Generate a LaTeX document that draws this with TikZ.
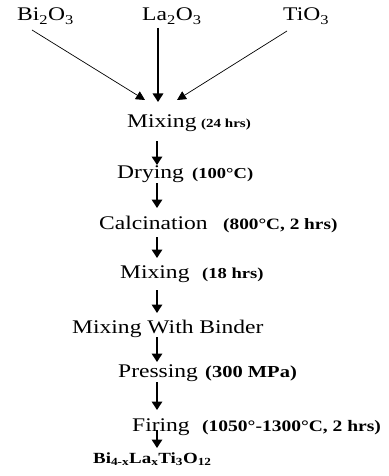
\documentclass[tikz,border=0pt]{standalone}
\usepackage{fontspec}
\setmainfont[FakeStretch=1.22]{Liberation Serif}
\usetikzlibrary{arrows.meta,calc}
\newcommand\fs[1]{\fontsize{#1}{#1}\selectfont}
\begin{document}
\begin{tikzpicture}[x=1pt,y=-1pt,
  lbl/.style={anchor=base west,inner sep=0pt,font=\fs{19.3}},
  par/.style={anchor=base west,inner sep=0pt,font=\bfseries\fs{#1}},
  arr/.style={line width=1.7pt,-{Triangle[length=8.5pt,width=10.5pt]}},
  darr/.style={line width=0.7pt,-{Triangle[length=9pt,width=9pt]}}]
\useasboundingbox (0,0) rectangle (388,476);
\coordinate (ax) at (157,0);
% raw materials
\node[lbl] (bi) at (17,21) {Bi\textsubscript{2}O\textsubscript{3}};
\node[lbl] (la) at (142,21) {La\textsubscript{2}O\textsubscript{3}};
\node[lbl] (ti) at (283,21) {TiO\textsubscript{3}};
% steps
\node[lbl] (mix1) at (127,128) {Mixing};
\node[par=12.3] (mix1p) at (201,128) {(24 hrs)};
\node[lbl] (dry) at (117,178) {Drying};
\node[par=15.2] (dryp) at (192,178) {(100°C)};
\node[lbl] (calc) at (99,229) {Calcination};
\node[par=15.8] (calcp) at (223,229) {(800°C, 2 hrs)};
\node[lbl] (mix2) at (120,278) {Mixing};
\node[par=15.2] (mix2p) at (202,278) {(18 hrs)};
\node[lbl] (bind) at (72,333) {Mixing With Binder};
\node[lbl] (press) at (118,377) {Pressing};
\node[par=16.8] (pressp) at (205,377) {(300 MPa)};
\node[lbl] (fire) at (132,431) {Firing};
\node[par=16] (firep) at (202,431) {(1050°-1300°C, 2 hrs)};
\node[par=15.5] (prod) at (93,463) {Bi\textsubscript{4-x}La\textsubscript{x}Ti\textsubscript{3}O\textsubscript{12}};
% connectors
\draw[darr] ($(bi.base west)+(15,9)$) -- ($(mix1.base west)+(18,-28)$);
\draw[arr] ($(la.base west)+(16,7)$) -- ($(mix1.base west)+(31,-26)$);
\draw[darr] ($(ti.base west)+(4,10)$) -- ($(mix1.base west)+(50,-28)$);
\draw[arr] ($(mix1.base -| ax)+(0,13)$) -- ($(dry.base -| ax)+(0,-13)$);
\draw[arr] ($(dry.base -| ax)+(0,5)$) -- ($(calc.base -| ax)+(0,-21)$);
\draw[arr] ($(calc.base -| ax)+(0,8)$) -- ($(mix2.base -| ax)+(0,-20)$);
\draw[arr] ($(mix2.base -| ax)+(0,12)$) -- ($(bind.base -| ax)+(0,-20)$);
\draw[arr] ($(bind.base -| ax)+(0,4)$) -- ($(press.base -| ax)+(0,-15)$);
\draw[arr] ($(press.base -| ax)+(0,5)$) -- ($(fire.base -| ax)+(0,-21)$);
\draw[arr] ($(fire.base -| ax)+(0,-1)$) -- ($(prod.base -| ax)+(0,-15)$);
\end{tikzpicture}
\end{document}
